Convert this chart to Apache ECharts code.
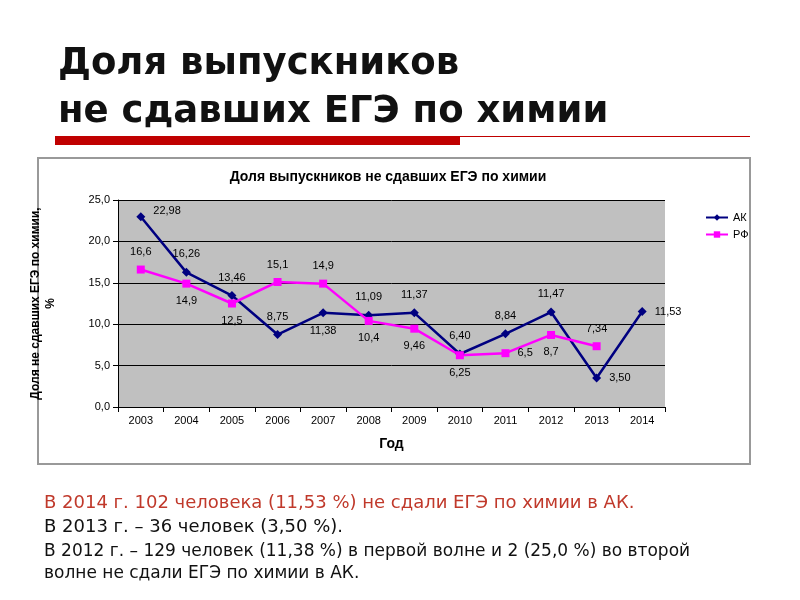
<!DOCTYPE html>
<html><head><meta charset="utf-8">
<script src="https://cdn.jsdelivr.net/npm/echarts@6/dist/echarts.min.js"></script>
<style>html,body{margin:0;padding:0;background:#fff}#c{width:800px;height:600px}</style>
</head><body><div id="c"></div>
<script>
const years=['2003','2004','2005','2006','2007','2008','2009','2010','2011','2012','2013','2014'];
const ak=[22.98,16.26,13.46,8.75,11.38,11.09,11.37,6.40,8.84,11.47,3.50,11.53];
const rf=[16.6,14.9,12.5,15.1,14.9,10.4,9.46,6.25,6.5,8.7,7.34,null];
const akLbl=['22,98','16,26','13,46','8,75','11,38','11,09','11,37','6,40','8,84','11,47','3,50','11,53'];
const rfLbl=['16,6','14,9','12,5','15,1','14,9','10,4','9,46','6,25','6,5','8,7','7,34',''];
const akPos=['right','top','top','top','bottom','top','top','top','top','top','right','right'];
const rfPos=['top','bottom','bottom','top','top','bottom','bottom','bottom','right','bottom','top','top'];
function mk(arr,lbl,pos){return arr.map((v,i)=>({value:v,label:{position:pos[i],formatter:()=>lbl[i],offset:i===0&&pos[i]==='right'?[0,-6]:[0,0]}}));}
const ch=echarts.init(document.getElementById('c'));
ch.setOption({
 animation:false,
 textStyle:{fontFamily:'Liberation Sans'},
 grid:{left:118,right:135,top:200,bottom:193},
 title:{text:'Доля выпускников не сдавших ЕГЭ по химии',left:383,top:165,textAlign:'center',textStyle:{fontSize:14,fontWeight:'bold',color:'#000'}},
 legend:{orient:'vertical',left:700,top:207,itemWidth:22,itemHeight:8,itemGap:6,textStyle:{fontSize:11,color:'#000'},data:['АК','РФ']},
 graphic:[
  {type:'text',left:58,top:40,style:{text:'Доля выпускников\nне сдавших ЕГЭ по химии',font:'bold 37px DejaVu Sans',fill:'#111',lineHeight:48}},
  {type:'rect',shape:{x:55,y:136,width:405,height:9},style:{fill:'#c00000'}},
  {type:'rect',shape:{x:460,y:136,width:290,height:1},style:{fill:'#c00000'}},
  {type:'rect',shape:{x:38,y:158,width:712,height:306},style:{fill:'none',stroke:'#999',lineWidth:2},z:-10},
  {type:'rect',shape:{x:118,y:200,width:547,height:207},style:{fill:'#c0c0c0'},z:-5},
  {type:'text',left:44,top:494,style:{text:'В 2014 г. 102 человека (11,53 %) не сдали ЕГЭ по химии в АК.',font:'18px DejaVu Sans',fill:'#c0392b'}},
  {type:'text',left:44,top:518,style:{text:'В 2013 г. – 36 человек (3,50 %).',font:'18px DejaVu Sans',fill:'#111'}},
  {type:'text',left:44,top:541,style:{text:'В 2012 г. – 129 человек (11,38 %) в первой волне и 2 (25,0 %) во второй\nволне не сдали ЕГЭ по химии в АК.',font:'17px DejaVu Sans',fill:'#111',lineHeight:22}}
 ],
 xAxis:{type:'category',data:years,boundaryGap:true,name:'Год',nameLocation:'middle',nameGap:30,nameTextStyle:{fontSize:14,fontWeight:'bold',color:'#000'},axisLine:{lineStyle:{color:'#000'}},axisTick:{show:true},axisLabel:{fontSize:11,color:'#000'}},
 yAxis:{type:'value',min:0,max:25,interval:5,name:'Доля не сдавших ЕГЭ по химии,\n%',nameLocation:'middle',nameGap:60,nameTextStyle:{fontSize:12,fontWeight:'bold',color:'#000',lineHeight:15},axisLine:{show:true,lineStyle:{color:'#000'}},axisTick:{show:true},splitLine:{lineStyle:{color:'#000'}},axisLabel:{fontSize:11,color:'#000',formatter:v=>v.toFixed(1).replace('.',',')}},
 series:[
  {name:'АК',type:'line',data:mk(ak,akLbl,akPos),symbol:'diamond',symbolSize:9,lineStyle:{color:'#000080',width:2.5},itemStyle:{color:'#000080'},label:{show:true,fontSize:11,color:'#000',distance:8}},
  {name:'РФ',type:'line',data:mk(rf,rfLbl,rfPos),symbol:'rect',symbolSize:8,lineStyle:{color:'#ff00ff',width:2.5},itemStyle:{color:'#ff00ff'},label:{show:true,fontSize:11,color:'#000',distance:8}}
 ]
});
</script></body></html>
